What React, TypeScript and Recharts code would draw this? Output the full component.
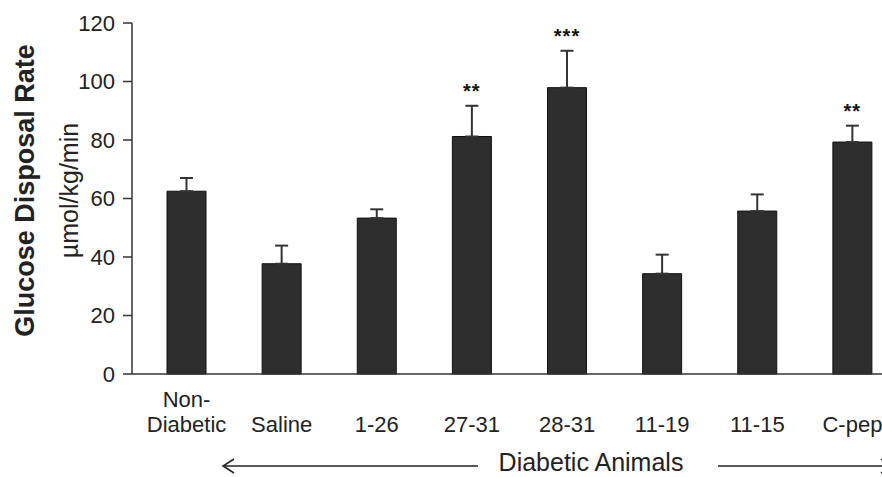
import { ComposedChart, Bar, XAxis, YAxis, ErrorBar, LabelList } from 'recharts'

const groups = ['Non-Diabetic', 'Saline', '1-26', '27-31', '28-31', '11-19', '11-15', 'C-pep']
const tickLabels = [['Non-', 'Diabetic'], ['Saline'], ['1-26'], ['27-31'], ['28-31'], ['11-19'], ['11-15'], ['C-pep']]
const means = [62.5, 37.7, 53.3, 81.2, 97.9, 34.3, 55.7, 79.3]
const sems = [4.5, 6.2, 3.0, 10.5, 12.6, 6.5, 5.7, 5.6]
const stars = ['', '', '', '**', '***', '', '', '**']
const yTicks = [0, 20, 40, 60, 80, 100, 120]

const FONT = '"Liberation Sans", Arial, sans-serif'
const INK = '#222'

const data = groups.map((g, i) => ({
  group: g,
  mean: means[i],
  err: [0, sems[i]],
  sig: stars[i],
}))

function GroupTick(props: any) {
  const { x, y, index } = props
  const lines = tickLabels[index] ?? [props.payload.value]
  const last = lines.length - 1
  return (
    <text x={x} y={y} textAnchor="middle" fontFamily={FONT} fontSize={22} fill={INK}>
      {lines.map((l, i) => (
        <tspan key={i} x={x} y={y + 58 - (last - i) * 25}>
          {l}
        </tspan>
      ))}
    </text>
  )
}

// significance stars sit just above the error bar cap
function StarLabel(props: any) {
  const { x, y, width, height, value, index } = props
  if (!value) return null
  const pxPerUnit = height / means[index]
  const top = y - sems[index] * pxPerUnit
  return (
    <text x={x + width / 2} y={top - 8} textAnchor="middle" fontFamily={FONT} fontSize={20} fontWeight="bold" fill="#111" letterSpacing={1}>
      {value}
    </text>
  )
}

function YTitle(props: any) {
  const vb = props.viewBox
  const cy = vb.y + vb.height / 2 - 8
  return (
    <g fontFamily={FONT} fill={INK}>
      <text x={vb.x + 34} y={cy} transform={`rotate(-90 ${vb.x + 34} ${cy})`} textAnchor="middle" fontSize={27} fontWeight="bold">
        Glucose Disposal Rate
      </text>
      <text x={vb.x + 78} y={cy} transform={`rotate(-90 ${vb.x + 78} ${cy})`} textAnchor="middle" fontSize={25}>
        µmol/kg/min
      </text>
    </g>
  )
}

function XTitle(props: any) {
  const vb = props.viewBox
  const ly = vb.y + 92
  const l0 = vb.x + 91
  const l1 = vb.x + 346
  const r0 = vb.x + 586
  const r1 = vb.x + 760
  return (
    <g fontFamily={FONT} fill={INK}>
      <line x1={l0} y1={ly} x2={l1} y2={ly} stroke={INK} strokeWidth={1.5} />
      <polyline points={`${l0 + 11},${ly - 7} ${l0},${ly} ${l0 + 11},${ly + 7}`} fill="none" stroke={INK} strokeWidth={1.5} />
      <text x={vb.x + 459} y={ly + 5} textAnchor="middle" fontSize={25}>
        Diabetic Animals
      </text>
      <line x1={r0} y1={ly} x2={r1} y2={ly} stroke={INK} strokeWidth={1.5} />
      <polyline points={`${r1 - 11},${ly - 7} ${r1},${ly} ${r1 - 11},${ly + 7}`} fill="none" stroke={INK} strokeWidth={1.5} />
    </g>
  )
}

export default function App() {
  return (
    <div style={{ width: 882, height: 477, background: '#fff', fontFamily: FONT }}>
      <style>{'body{margin:0;overflow:hidden}'}</style>
      <ComposedChart width={882} height={477} data={data} margin={{ top: 23, right: -18, bottom: 43, left: 0 }}>
        <XAxis
          dataKey="group"
          interval={0}
          tickLine={false}
          tickSize={0}
          tickMargin={0}
          height={60}
          padding={{ left: 7, right: 0 }}
          axisLine={{ stroke: '#333', strokeWidth: 1.5 }}
          tick={<GroupTick />}
          label={{ content: <XTitle /> }}
        />
        <YAxis
          width={132}
          domain={[0, 120]}
          ticks={yTicks}
          interval={0}
          tickSize={9}
          tickMargin={8}
          axisLine={{ stroke: '#333', strokeWidth: 1.5 }}
          tickLine={{ stroke: '#333', strokeWidth: 1.5 }}
          tick={{ fontFamily: FONT, fontSize: 22, fill: INK }}
          label={{ content: <YTitle /> }}
        />
        <Bar dataKey="mean" fill="#2e2e2e" stroke="#111" strokeWidth={1} barSize={39} isAnimationActive={false}>
          <ErrorBar dataKey="err" direction="y" width={6.5} stroke="#333" strokeWidth={2} isAnimationActive={false} />
          <LabelList dataKey="sig" content={<StarLabel />} />
        </Bar>
      </ComposedChart>
    </div>
  )
}
